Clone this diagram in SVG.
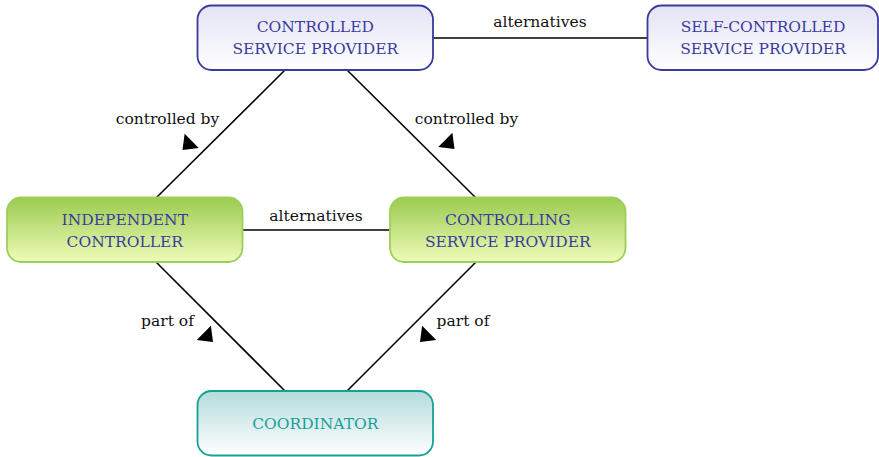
<svg xmlns="http://www.w3.org/2000/svg" width="879" height="457" viewBox="0 0 879 457">
  <defs>
    <linearGradient id="gBlue" x1="0" y1="0" x2="0" y2="1">
      <stop offset="0" stop-color="#e3e3f6"/>
      <stop offset="1" stop-color="#ffffff"/>
    </linearGradient>
    <linearGradient id="gGreen" x1="0" y1="0" x2="0" y2="1">
      <stop offset="0" stop-color="#9bcb4f"/>
      <stop offset="1" stop-color="#effcba"/>
    </linearGradient>
    <linearGradient id="gTeal" x1="0" y1="0" x2="0" y2="1">
      <stop offset="0" stop-color="#b5dbdb"/>
      <stop offset="1" stop-color="#ffffff"/>
    </linearGradient>
    <!-- filled arrowhead, tip at the origin, pointing along +x -->
    <path id="head" d="M0,0 L-13,-10 L-13,10 Z"/>
  </defs>
  <style>
    text { font-family: "DejaVu Serif", "Liberation Serif", serif; font-size: 15.5px; text-anchor: middle; }
    .blue rect { fill: url(#gBlue); stroke: #3a3a98; stroke-width: 1.8; }
    .green rect { fill: url(#gGreen); stroke: #9ccf5a; stroke-width: 1.8; }
    .teal rect { fill: url(#gTeal); stroke: #16a096; stroke-width: 1.8; }
    .blue text, .green text { fill: #3b3b9e; }
    .teal text { fill: #17a09a; }
    .link line { stroke: #000; stroke-width: 1.6; }
    .lbl { fill: #111; }
    .arrow { fill: #000; }
  </style>

  <g id="connectors" class="link">
    <line x1="433" y1="38" x2="648" y2="38"/>
    <line x1="285" y1="70" x2="156" y2="198"/>
    <line x1="347" y1="70" x2="476" y2="198"/>
    <line x1="242" y1="230" x2="390" y2="230"/>
    <line x1="156" y1="262" x2="285" y2="391"/>
    <line x1="476" y1="262" x2="347" y2="391"/>
    <use href="#head" class="arrow" transform="translate(182.5,150) rotate(135)"/>
    <use href="#head" class="arrow" transform="translate(454.5,149) rotate(45)"/>
    <use href="#head" class="arrow" transform="translate(213,342) rotate(45)"/>
    <use href="#head" class="arrow" transform="translate(420,342) rotate(135)"/>
    <text class="lbl" x="540" y="27">alternatives</text>
    <text class="lbl" x="316" y="221">alternatives</text>
    <text class="lbl" x="167.5" y="123.5">controlled by</text>
    <text class="lbl" x="466.5" y="123.5">controlled by</text>
    <text class="lbl" x="167.5" y="326">part of</text>
    <text class="lbl" x="463" y="326">part of</text>
  </g>

  <g id="controlled-sp" class="blue">
    <rect x="197.5" y="5.5" width="235.5" height="64.5" rx="14"/>
    <text x="315.3" y="31.5">CONTROLLED</text>
    <text x="315.3" y="54">SERVICE PROVIDER</text>
  </g>
  <g id="self-controlled-sp" class="blue">
    <rect x="647.5" y="5.5" width="230.5" height="64.5" rx="14"/>
    <text x="763" y="31.5">SELF-CONTROLLED</text>
    <text x="763" y="54">SERVICE PROVIDER</text>
  </g>
  <g id="independent-controller" class="green">
    <rect x="7" y="197.5" width="235.5" height="64.5" rx="14"/>
    <text x="124.8" y="224.5">INDEPENDENT</text>
    <text x="124.8" y="246.5">CONTROLLER</text>
  </g>
  <g id="controlling-sp" class="green">
    <rect x="390" y="197.5" width="235.5" height="64.5" rx="14"/>
    <text x="507.8" y="224.5">CONTROLLING</text>
    <text x="507.8" y="246.5">SERVICE PROVIDER</text>
  </g>
  <g id="coordinator" class="teal">
    <rect x="197.5" y="391" width="235.5" height="64.5" rx="14"/>
    <text x="315.3" y="429">COORDINATOR</text>
  </g>
</svg>
